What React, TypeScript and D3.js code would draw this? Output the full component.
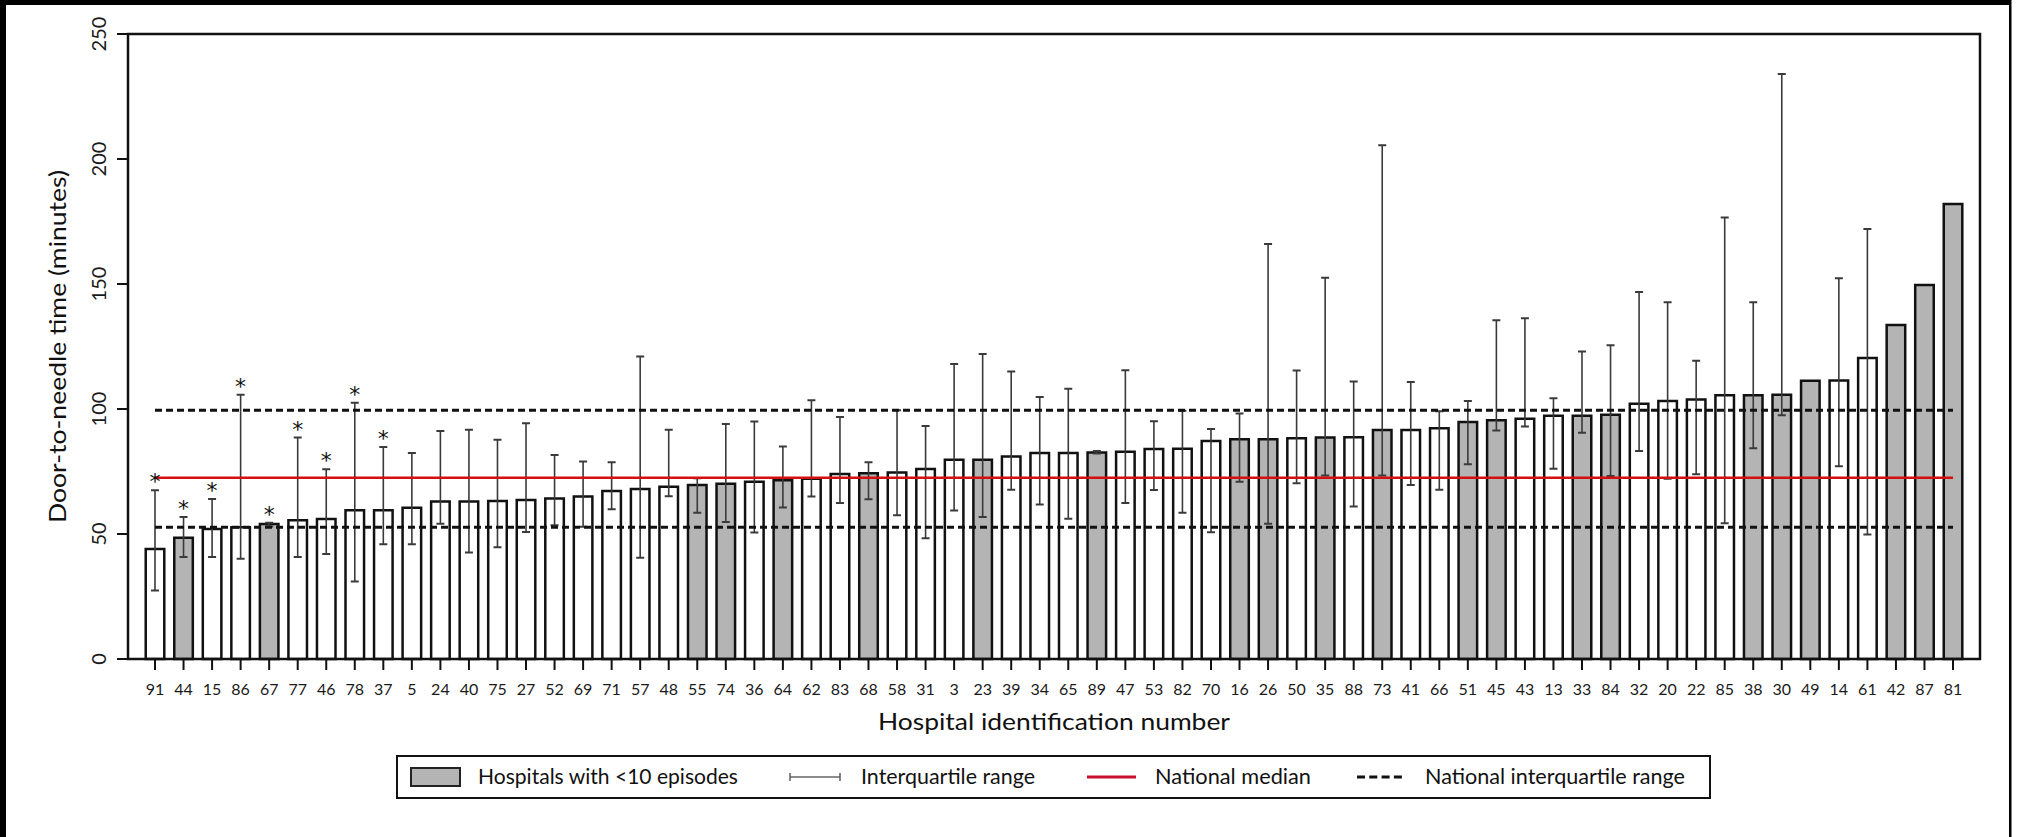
import React, { useEffect, useRef } from 'react';
import * as d3 from 'd3';

// hospital ids in plotted order
const hospitals = [
  '91', '44', '15', '86', '67', '77', '46', '78', '37', '5',
  '24', '40', '75', '27', '52', '69', '71', '57', '48', '55',
  '74', '36', '64', '62', '83', '68', '58', '31', '3', '23',
  '39', '34', '65', '89', '47', '53', '82', '70', '16', '26',
  '50', '35', '88', '73', '41', '66', '51', '45', '43', '13',
  '33', '84', '32', '20', '22', '85', '38', '30', '49', '14',
  '61', '42', '87', '81'
];

// median door-to-needle time (minutes)
const medians = [
  44, 48.5, 52, 52.7, 54, 55.5, 56, 59.5, 59.5, 60.5,
  63, 63, 63.2, 63.6, 64.2, 65, 67.2, 68, 68.9, 69.6,
  70.1, 70.9, 71.5, 72.1, 74, 74.3, 74.6, 76, 79.7, 79.7,
  81, 82.4, 82.4, 82.6, 82.9, 84, 84.1, 87.2, 87.9, 87.9,
  88.3, 88.6, 88.7, 91.6, 91.6, 92.3, 94.8, 95.5, 96.1, 97.3,
  97.3, 97.7, 102.1, 103.2, 103.8, 105.5, 105.5, 105.7, 111.3, 111.4,
  120.4, 133.6, 149.6, 182
];

// lower quartile (null = no interquartile range shown)
const q1 = [
  27.4, 40.8, 40.8, 40.1, 53, 40.8, 42, 31, 45.9, 45.9,
  54.1, 42.6, 44.7, 50.8, 53.5, 52.9, 59.9, 40.5, 65.1, 58.5,
  54.8, 50.6, 60.6, 65, 62.4, 63.9, 57.5, 48.3, 59.4, 56.8,
  67.7, 61.8, 56.1, 82.2, 62.4, 67.6, 58.5, 50.7, 70.9, 54.1,
  70.3, 73.4, 61, 73.4, 69.6, 67.7, 77.9, 91.4, 93, 76.1,
  90.5, 73.2, 83.2, 72.1, 73.9, 54.3, 84.3, 97.5, null, 77.1,
  49.8, null, null, null
];

// upper quartile
const q3 = [
  67.5, 56.8, 64, 105.7, 54.5, 88.6, 75.9, 102.5, 84.8, 82.4,
  91.2, 91.7, 87.7, 94.3, 81.6, 79, 78.7, 121, 91.7, 72.3,
  94, 95, 85, 103.5, 96.8, 78.7, 99.5, 93.2, 118, 122,
  115, 104.8, 108.1, 83.2, 115.5, 95.1, 99.3, 92, 98.2, 166,
  115.4, 152.5, 111, 205.5, 110.8, 99.1, 103.2, 135.5, 136.3, 104.3,
  123, 125.5, 146.8, 142.7, 119.3, 176.6, 142.7, 234, null, 152.3,
  172, null, null, null
];

// hospitals with fewer than 10 episodes (grey bars)
const smallHospitals = [
  '44', '67', '55', '74', '64', '68', '23', '89', '16', '26', '35',
  '73', '51', '45', '33', '84', '38', '30', '49', '42', '87', '81'
];

// hospitals flagged with an asterisk
const starred = ['91', '44', '15', '86', '67', '77', '46', '78', '37'];

const yTicks = [0, 50, 100, 150, 200, 250];

const nationalMedian = 72.5;
const nationalQ1 = 52.7;
const nationalQ3 = 99.5;

const FONT = 'Lato, "Liberation Sans", sans-serif';

const DoorToNeedleChart: React.FC = () => {
  const svgRef = useRef<SVGSVGElement>(null);
  const width = 2018;
  const height = 837;
  const plot = { left: 128, right: 1980, top: 34, bottom: 659 };

  useEffect(() => {
    document.body.style.margin = '0';
    const svg = d3.select(svgRef.current);
    svg.selectAll('*').remove();

    svg.append('rect').attr('width', width).attr('height', height).attr('fill', '#fff');

    // outer frame of the figure
    svg.append('rect').attr('x', 0).attr('y', 0).attr('width', 2011).attr('height', 5).attr('fill', '#000');
    svg.append('rect').attr('x', 0).attr('y', 0).attr('width', 6).attr('height', height).attr('fill', '#000');
    svg.append('rect').attr('x', 2009).attr('y', 0).attr('width', 2.5).attr('height', height).attr('fill', '#000');

    // scales
    const step = 28.54;
    const firstCenter = 155;
    const xScale = d3.scaleBand<string>()
      .domain(hospitals)
      .range([firstCenter - step / 2, firstCenter - step / 2 + step * hospitals.length])
      .paddingInner(0.35)
      .paddingOuter(0.175);
    const cx = (h: string) => (xScale(h) || 0) + xScale.bandwidth() / 2;

    const yScale = d3.scaleLinear().domain([0, 250]).range([plot.bottom, plot.top]);

    const g = svg.append('g');

    // bars
    g.selectAll('.bar')
      .data(hospitals)
      .enter()
      .append('rect')
      .attr('class', 'bar')
      .attr('x', d => xScale(d) || 0)
      .attr('width', xScale.bandwidth())
      .attr('y', (d, i) => yScale(medians[i]))
      .attr('height', (d, i) => yScale(0) - yScale(medians[i]))
      .attr('fill', d => (smallHospitals.includes(d) ? '#b4b4b4' : '#fff'))
      .attr('stroke', '#111')
      .attr('stroke-width', 2.5);

    // interquartile range error bars
    const capHalf = 4;
    hospitals.forEach((h, i) => {
      if (q1[i] == null || q3[i] == null) return;
      const x = cx(h);
      const eb = g.append('g').attr('stroke', '#3a3a3a').attr('stroke-width', 1.6);
      eb.append('line').attr('x1', x).attr('x2', x).attr('y1', yScale(q1[i] as number)).attr('y2', yScale(q3[i] as number));
      eb.append('line').attr('x1', x - capHalf).attr('x2', x + capHalf).attr('y1', yScale(q3[i] as number)).attr('y2', yScale(q3[i] as number)).attr('stroke-width', 2);
      eb.append('line').attr('x1', x - capHalf).attr('x2', x + capHalf).attr('y1', yScale(q1[i] as number)).attr('y2', yScale(q1[i] as number)).attr('stroke-width', 2);
    });

    // national reference lines
    const lx1 = cx(hospitals[0]);
    const lx2 = cx(hospitals[hospitals.length - 1]);
    [nationalQ1, nationalQ3].forEach(v => {
      g.append('line')
        .attr('x1', lx1).attr('x2', lx2)
        .attr('y1', yScale(v)).attr('y2', yScale(v))
        .attr('stroke', '#111')
        .attr('stroke-width', 2.8)
        .attr('stroke-dasharray', '7 4');
    });
    g.append('line')
      .attr('x1', lx1).attr('x2', lx2)
      .attr('y1', yScale(nationalMedian)).attr('y2', yScale(nationalMedian))
      .attr('stroke', '#d40f0f')
      .attr('stroke-width', 2.4);

    // asterisks
    hospitals.forEach((h, i) => {
      if (!starred.includes(h)) return;
      const top = q3[i] != null ? (q3[i] as number) : medians[i];
      g.append('text')
        .attr('x', cx(h))
        .attr('y', yScale(top) - 1)
        .attr('text-anchor', 'middle')
        .style('font-family', '"DejaVu Sans", sans-serif')
        .style('font-size', '22px')
        .style('fill', '#111')
        .text('*');
    });

    // plot box
    svg.append('rect')
      .attr('x', plot.left).attr('y', plot.top)
      .attr('width', plot.right - plot.left)
      .attr('height', plot.bottom - plot.top)
      .attr('fill', 'none')
      .attr('stroke', '#111')
      .attr('stroke-width', 2.5);

    // y axis ticks and labels
    yTicks.forEach(t => {
      svg.append('line')
        .attr('x1', plot.left - 11).attr('x2', plot.left)
        .attr('y1', yScale(t)).attr('y2', yScale(t))
        .attr('stroke', '#111').attr('stroke-width', 2);
      svg.append('text')
        .attr('transform', `translate(99, ${yScale(t)}) rotate(-90)`)
        .attr('text-anchor', 'middle')
        .attr('dy', '0.35em')
        .style('font-family', FONT)
        .style('font-size', '20px')
        .style('fill', '#1a1a1a')
        .text(String(t));
    });

    // x axis ticks and labels
    hospitals.forEach(h => {
      svg.append('line')
        .attr('x1', cx(h)).attr('x2', cx(h))
        .attr('y1', plot.bottom).attr('y2', plot.bottom + 11)
        .attr('stroke', '#111').attr('stroke-width', 2);
      svg.append('text')
        .attr('x', cx(h))
        .attr('y', 695)
        .attr('text-anchor', 'middle')
        .style('font-family', FONT)
        .style('font-size', '16px')
        .style('fill', '#1a1a1a')
        .text(h);
    });

    // axis titles
    svg.append('text')
      .attr('transform', `translate(58, ${(plot.top + plot.bottom) / 2}) rotate(-90)`)
      .attr('text-anchor', 'middle')
      .attr('dy', '0.35em')
      .attr('textLength', 353)
      .attr('lengthAdjust', 'spacingAndGlyphs')
      .style('font-family', FONT)
      .style('font-size', '24px')
      .style('fill', '#111')
      .text('Door-to-needle time (minutes)');

    svg.append('text')
      .attr('x', (plot.left + plot.right) / 2)
      .attr('y', 730)
      .attr('text-anchor', 'middle')
      .attr('textLength', 352)
      .attr('lengthAdjust', 'spacingAndGlyphs')
      .style('font-family', FONT)
      .style('font-size', '24px')
      .style('fill', '#111')
      .text('Hospital identification number');

    // legend
    const lg = svg.append('g');
    const ly = 777;
    lg.append('rect')
      .attr('x', 397).attr('y', 756).attr('width', 1313).attr('height', 42)
      .attr('fill', '#fff').attr('stroke', '#111').attr('stroke-width', 2);

    lg.append('rect')
      .attr('x', 411).attr('y', 768).attr('width', 49).attr('height', 18)
      .attr('fill', '#b4b4b4').attr('stroke', '#222').attr('stroke-width', 2);

    const legendText = (x: number, len: number, label: string) =>
      lg.append('text')
        .attr('x', x)
        .attr('y', ly)
        .attr('dy', '0.35em')
        .attr('textLength', len)
        .attr('lengthAdjust', 'spacingAndGlyphs')
        .style('font-family', FONT)
        .style('font-size', '21px')
        .style('fill', '#111')
        .text(label);

    legendText(478, 260, 'Hospitals with <10 episodes');

    const iq = lg.append('g').attr('stroke', '#666').attr('stroke-width', 1.6);
    iq.append('line').attr('x1', 790).attr('x2', 840).attr('y1', ly).attr('y2', ly);
    iq.append('line').attr('x1', 790).attr('x2', 790).attr('y1', ly - 4).attr('y2', ly + 4);
    iq.append('line').attr('x1', 840).attr('x2', 840).attr('y1', ly - 4).attr('y2', ly + 4);
    legendText(861, 174, 'Interquartile range');

    lg.append('line')
      .attr('x1', 1087).attr('x2', 1136).attr('y1', ly).attr('y2', ly)
      .attr('stroke', '#c8102e').attr('stroke-width', 2.8);
    legendText(1155, 156, 'National median');

    lg.append('line')
      .attr('x1', 1357).attr('x2', 1402).attr('y1', ly).attr('y2', ly)
      .attr('stroke', '#111').attr('stroke-width', 2.8)
      .attr('stroke-dasharray', '8 4.3');
    legendText(1425, 260, 'National interquartile range');
  }, []);

  return (
    <svg
      ref={svgRef}
      width={width}
      height={height}
      style={{ position: 'absolute', left: 0, top: 0, display: 'block' }}
    />
  );
};

export default function App() {
  return <DoorToNeedleChart />;
}
